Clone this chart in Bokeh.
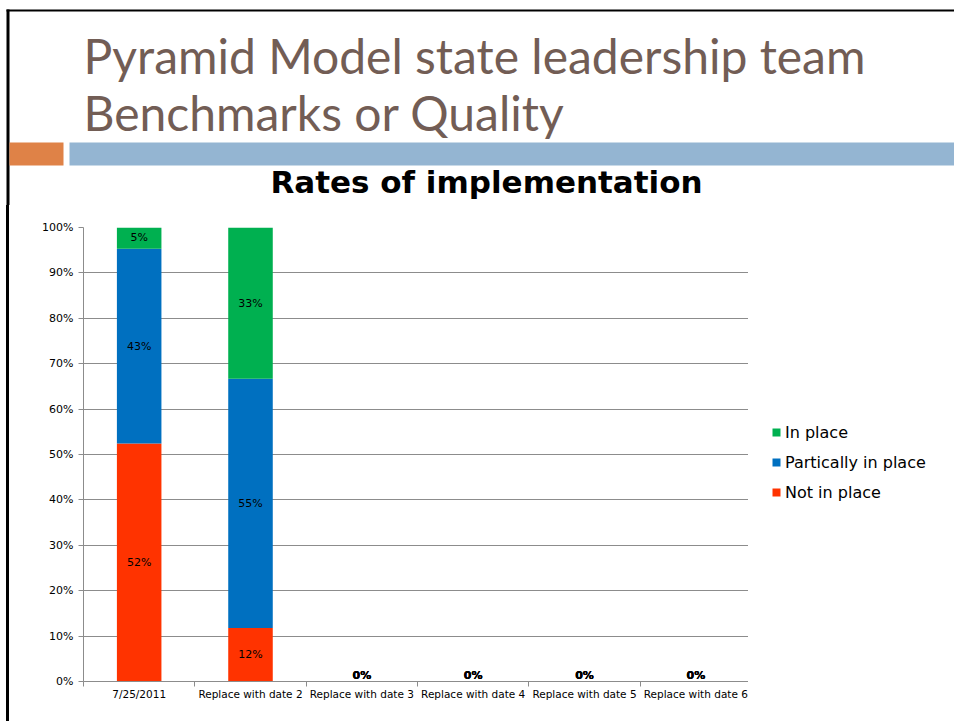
from bokeh.plotting import figure
from bokeh.models import (ColumnDataSource, Range1d, FixedTicker, NumeralTickFormatter,
                          Legend, LegendItem)
from bokeh.layouts import column, row
from bokeh.embed import file_html
from bokeh.resources import INLINE
from bokeh.core.properties import value

# ---------------- data ----------------
categories = ["7/25/2011", "Replace with date 2", "Replace with date 3",
              "Replace with date 4", "Replace with date 5", "Replace with date 6"]
series_names = ["Not in place", "Partically in place", "In place"]
not_in_place = [0.524, 0.118, 0.0, 0.0, 0.0, 0.0]
partially_in_place = [0.429, 0.549, 0.0, 0.0, 0.0, 0.0]
in_place = [0.048, 0.333, 0.0, 0.0, 0.0, 0.0]
y_ticks = [0.0, 0.1, 0.2, 0.3, 0.4, 0.5, 0.6, 0.7, 0.8, 0.9, 1.0]
slide_title = ["Pyramid Model state leadership team", "Benchmarks or Quality"]
chart_title = "Rates of implementation"

# ---------------- styles ----------------
colors = ["#FF3300", "#0070C0", "#00B050"]
W = 954
HEADER_H = 205
CHART_H = 516
LEGEND_W = 203
FONT = "DejaVu Sans"
TITLE_COLOR = "#725D55"
GRID = "#8C8C8C"

# ---------------- header (slide title + decoration) ----------------
h = figure(width=W, height=HEADER_H, x_range=Range1d(0, W), y_range=Range1d(HEADER_H, 0),
           output_backend="svg", toolbar_location=None, min_border=0,
           x_axis_location=None, y_axis_location=None)
h.frame_align = False
h.grid.visible = False
h.outline_line_color = None
h.quad(left=[6, 6, 9, 69], right=[9, W, 63, W], top=[9, 9, 142, 142], bottom=[HEADER_H, 11, 165, 165],
       fill_color=["black", "black", "#DF8247", "#94B5D2"], line_color=None)
h.text(x=[83, 83], y=[54.5, 111.5], text=slide_title, text_font=value("Lato"),
       text_font_size="48px", text_color=TITLE_COLOR, text_baseline="alphabetic")
h.text(x=[486], y=[181.5], text=[chart_title], text_font=value(FONT), text_font_style="bold",
       text_font_size="31px", text_color="black", text_align="center", text_baseline="alphabetic")

# ---------------- chart ----------------
xs = list(range(len(categories)))
src = ColumnDataSource(dict(x=xs, nip=not_in_place, pip=partially_in_place, ip=in_place))

p = figure(width=W - 9 - LEGEND_W, height=CHART_H, x_range=Range1d(-0.5, len(categories) - 0.5),
           y_range=Range1d(0, 1), output_backend="svg", toolbar_location=None,
           min_border_left=74, min_border_right=0, min_border_top=22, min_border_bottom=40)
p.frame_align = False
p.styles = {"margin-left": "6px", "border-left": "3px solid black"}
p.outline_line_color = None
p.xgrid.visible = False
p.ygrid.ticker = FixedTicker(ticks=y_ticks)
p.ygrid.grid_line_color = GRID

renderers = p.vbar_stack(["nip", "pip", "ip"], x="x", width=0.4, color=colors,
                         line_color=None, source=src)

# data labels (centre of each stacked segment; zero segments sit on the axis)
seg_x, seg_y, seg_t = [], [], []
zero_x, zero_y, zero_t = [], [], []
for i in xs:
    bottom = 0.0
    for series in (not_in_place, partially_in_place, in_place):
        v = series[i]
        txt = f"{round(v * 100)}%"
        if v > 0:
            seg_x.append(i); seg_y.append(bottom + v / 2); seg_t.append(txt)
        else:
            zero_x.append(i); zero_y.append(bottom); zero_t.append(txt)
        bottom += v
p.text(x=seg_x, y=seg_y, text=seg_t, text_font=value(FONT), text_font_size="11px",
       text_color="black", text_align="center", text_baseline="middle")
p.text(x=zero_x, y=zero_y, text=zero_t, text_font=value(FONT), text_font_size="11px",
       text_font_style="bold", text_color="black", text_align="center", text_baseline="bottom")

# axes
xa = p.xaxis[0]
xa.ticker = FixedTicker(ticks=xs, minor_ticks=[i - 0.5 for i in range(len(categories) + 1)])
xa.major_label_overrides = {i: c for i, c in zip(xs, categories)}
xa.major_tick_line_color = None
xa.major_tick_out = 0
xa.major_tick_in = 0
xa.minor_tick_out = 5
xa.minor_tick_in = 0
xa.minor_tick_line_color = GRID
xa.axis_line_color = GRID
xa.major_label_standoff = 1
xa.major_label_text_font = FONT
xa.major_label_text_font_size = "10.5px"
xa.major_label_text_color = "black"

ya = p.yaxis[0]
ya.ticker = FixedTicker(ticks=y_ticks)
ya.formatter = NumeralTickFormatter(format="0%")
ya.major_tick_out = 5
ya.major_tick_in = 0
ya.major_tick_line_color = GRID
ya.axis_line_color = GRID
ya.major_label_standoff = 5
ya.major_label_text_font = FONT
ya.major_label_text_font_size = "11px"
ya.major_label_text_color = "black"

# ---------------- legend panel ----------------
lf = figure(width=LEGEND_W, height=CHART_H, x_range=Range1d(0, 1), y_range=Range1d(0, 1),
            output_backend="svg", toolbar_location=None, min_border=0,
            x_axis_location=None, y_axis_location=None)
lf.frame_align = False
lf.grid.visible = False
lf.outline_line_color = None
# keys: one bar per series, placed outside the visible range so only the legend shows them
key_renderers = [lf.vbar(x=[5], top=[1], width=0.1, color=c, line_color=None) for c in colors]
legend = Legend(items=[LegendItem(label=series_names[2], renderers=[key_renderers[2]]),
                       LegendItem(label=series_names[1], renderers=[key_renderers[1]]),
                       LegendItem(label=series_names[0], renderers=[key_renderers[0]])],
                location=(23, 219), glyph_width=10, glyph_height=10, label_standoff=4,
                spacing=10, label_height=20, padding=0, margin=0,
                label_text_font=FONT, label_text_font_size="16px", label_text_color="black",
                background_fill_alpha=0, border_line_color=None)
lf.add_layout(legend)

layout = column(h, row(p, lf, spacing=0), spacing=0)
open("out.html", "w").write(file_html(layout, INLINE))
